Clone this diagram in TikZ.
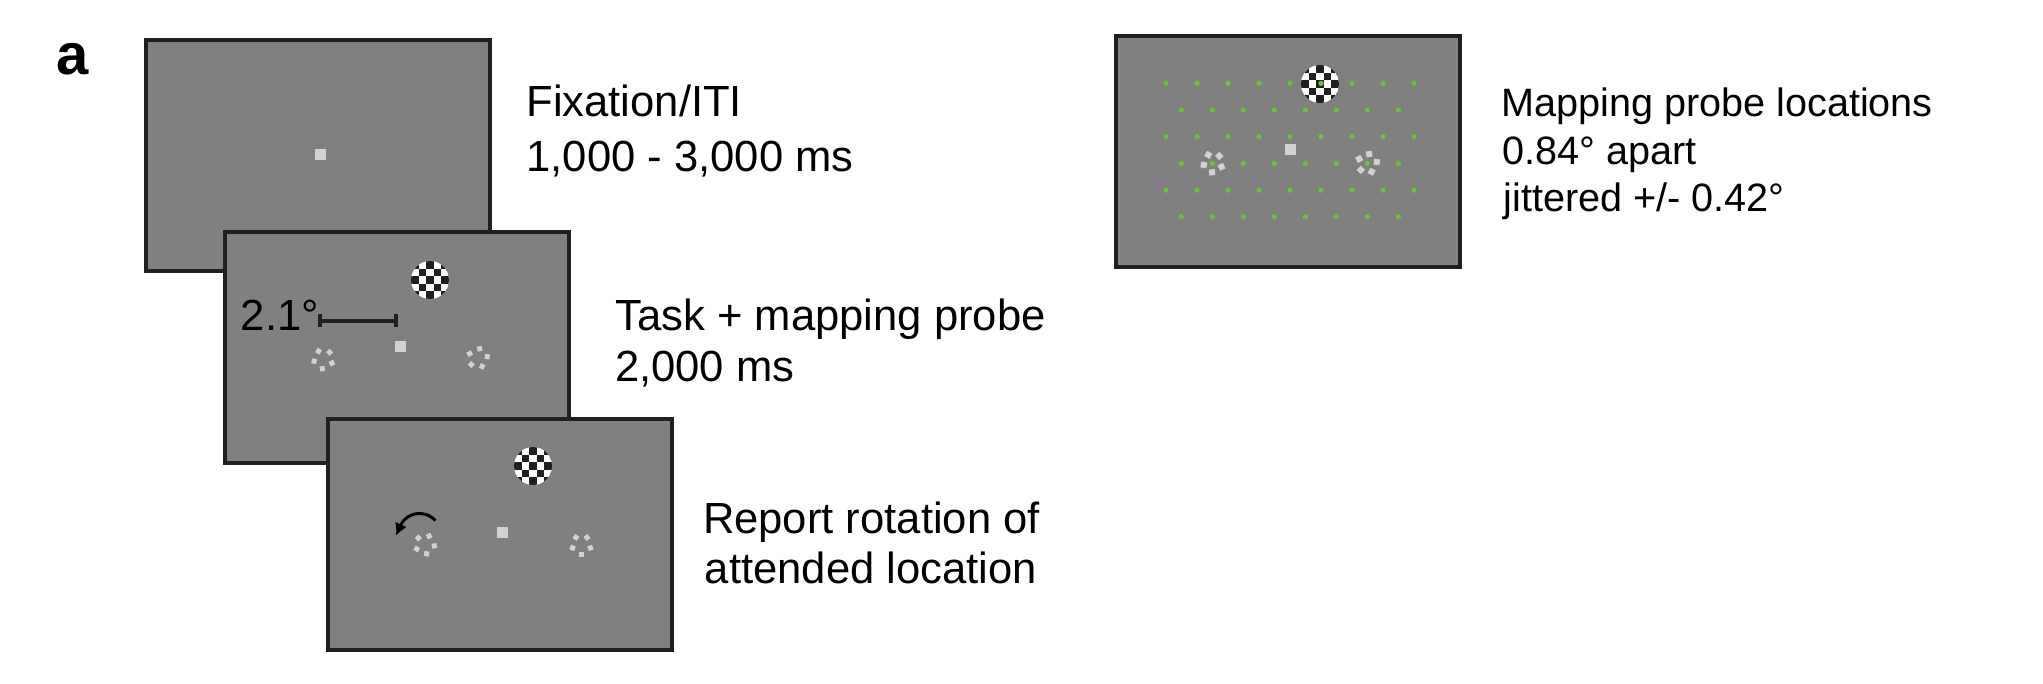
\documentclass[tikz,border=0pt]{standalone}
\usepackage{fontspec}
\setmainfont{Liberation Sans}
\usetikzlibrary{arrows.meta,calc}
\definecolor{scrgray}{HTML}{808080}
\definecolor{edgeblk}{HTML}{231F20}
\definecolor{lightsq}{HTML}{D1D1D1}
\definecolor{probegreen}{HTML}{6DBE45}

\newcommand{\chkboard}[2]{%
  \begin{scope}
    \clip (#1,#2) circle (19);
    \fill[white] (#1,#2) circle (19);
    \foreach \i in {-2,...,2}{\foreach \j in {-2,...,2}{%
      \pgfmathtruncatemacro\cpar{\i+\j+4}%
      \ifodd\cpar\else
        \fill[edgeblk] ({#1+7.5*\i-3.75},{#2+7.5*\j-3.75}) rectangle ++(7.5,7.5);
      \fi
    }}
  \end{scope}}

\newcommand{\pcluster}[4]{%
  \foreach \k in {0,...,4}{%
    \pgfmathsetmacro\pang{#3+72*\k}%
    \fill[lightsq, shift={($(#1,#2)+(\pang:9.4)$)}, rotate=\pang] (-#4,-#4) rectangle (#4,#4);
  }}

\tikzset{
  screen/.style={draw=edgeblk, fill=scrgray, line width=2pt, minimum width=172pt, minimum height=115.5pt, inner sep=0pt},
  fixsq/.style={fill=lightsq, minimum size=5.5pt, inner sep=0pt},
  lbig/.style={anchor=base west, inner sep=0pt, font=\fontsize{21.8}{26}\selectfont},
  lsmall/.style={anchor=base west, inner sep=0pt, font=\fontsize{19.8}{24}\selectfont},
  barline/.style={edgeblk, line width=1.8pt},
  rotarrow/.style={black, line width=1.5pt, -{Latex[length=6pt,width=6.5pt]}},
}

\begin{document}
\begin{tikzpicture}[x=0.5pt, y=-0.5pt]
\useasboundingbox (0,0) rectangle (2043,684);

% panel label
\node[anchor=base west, inner sep=0pt, font=\fontsize{29}{34}\selectfont\bfseries] (lbl) at (56,75) {a};

% screen 1
\node[screen] (s1) at (317.5,155.8) {};
\node[fixsq] (f1) at (320,155) {};

% screen 2
\node[screen] (s2) at (397.2,347.5) {};
\node[fixsq] (f2) at (400,346.5) {};
\chkboard{430}{280}
\pcluster{323.3}{359.3}{24}{2.5}
\pcluster{478}{358}{-8}{2.5}
\coordinate (barL) at (320,320.7);
\coordinate (barR) at (396,320.7);
\draw[barline] (barL) -- (barR);
\draw[barline] ($(barL)+(0,-6.5)$) -- ($(barL)+(0,6.5)$);
\draw[barline] ($(barR)+(0,-6.5)$) -- ($(barR)+(0,6.5)$);
\node[lbig] (deg) at (240.4,330) {2.1°};

% screen 3
\node[screen] (s3) at (500,534.2) {};
\node[fixsq] (f3) at (502.7,532.3) {};
\chkboard{533}{466}
\pcluster{425}{544.5}{8}{2.5}
\pcluster{581.5}{545}{18}{2.5}
\coordinate (arrS) at (435.5,520.5);
\coordinate (arrE) at (396,535.5);
\draw[rotarrow] (arrS) .. controls (426,510) and (407,511) .. (arrE);

% screen 4 (mapping)
\node[screen] (s4) at (1287.5,151.3) {};
\node[fixsq] (f4) at (1290,150) {};
\chkboard{1320}{84}
\foreach \r in {0,2,4}{\foreach \c in {0,...,8}{
  \fill[probegreen] ({1166+31*\c},{83.3+26.7*\r}) circle (2.7);}}
\foreach \r in {1,3,5}{\foreach \c in {0,...,7}{
  \fill[probegreen] ({1181.3+31*\c},{83.3+26.7*\r}) circle (2.7);}}
\pcluster{1213}{163}{24}{3}
\pcluster{1367.5}{163.3}{-8}{3}

% texts
\node[lbig] (t1a) at (526,116.7) {Fixation/ITI};
\node[lbig] (t1b) at (526,171.7) {1,000 - 3,000 ms};
\node[lbig] (t2a) at (615,330) {Task + mapping probe};
\node[lbig] (t2b) at (614.7,381.7) {2,000 ms};
\node[lbig] (t3a) at (702.6,533.3) {Report rotation of};
\node[lbig] (t3b) at (704.4,583.3) {attended location};
\node[lsmall] (t4a) at (1501,116.7) {Mapping probe locations};
\node[lsmall] (t4b) at (1502.3,165) {0.84° apart};
\node[lsmall] (t4c) at (1503,211.7) {jittered +/- 0.42°};
\end{tikzpicture}
\end{document}
